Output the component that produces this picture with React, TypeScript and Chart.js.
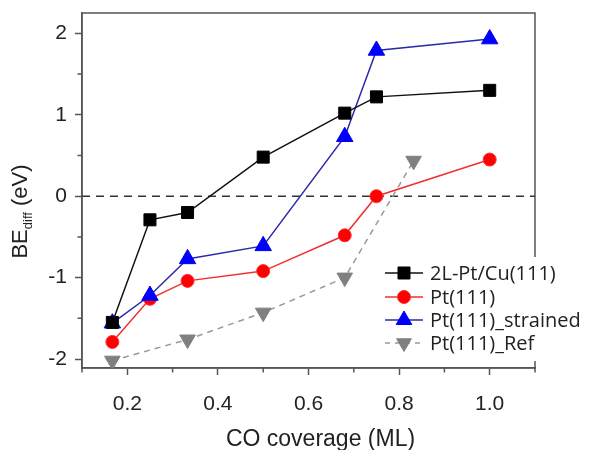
import React, { useEffect, useRef } from 'react';
import { Chart, registerables } from 'chart.js';

Chart.register(...registerables);

// ---- data ----
const COVERAGE = [0.167, 0.25, 0.333, 0.5, 0.68, 0.75, 1.0];
const PTCU_BE = [-1.55, -0.29, -0.2, 0.48, 1.02, 1.22, 1.3];
const PT111_BE = [-1.79, -1.26, -1.04, -0.92, -0.48, 0.0, 0.45];
const STRAINED_BE = [-1.56, -1.22, -0.77, -0.61, 0.73, 1.79, 1.93];
const REF_COVERAGE = [0.167, 0.333, 0.5, 0.68, 0.832];
const REF_BE = [-2.02, -1.76, -1.43, -1.0, 0.435];
const ZERO_X = [0.1, 1.1];
const ZERO_Y = [0, 0];

const X_TICKS = [0.2, 0.4, 0.6, 0.8, 1.0];
const X_MINOR = [0.1, 0.3, 0.5, 0.7, 0.9, 1.1];
const Y_TICKS = [-2, -1, 0, 1, 2];
const Y_MINOR = [-1.5, -0.5, 0.5, 1.5];

const LEGEND_LABELS = ['2L-Pt/Cu(111)', 'Pt(111)', 'Pt(111)_strained', 'Pt(111)_Ref'];

const pts = (xs: number[], ys: number[]) => xs.map((x, i) => ({ x, y: ys[i] }));

const FRAME = '#555';
const AXIS_FONT = "'Liberation Sans', Arial, sans-serif";

const framePlugin = {
  id: 'frame',
  beforeDatasetsDraw(chart: any) {
    const { ctx, chartArea: a, scales } = chart;
    ctx.save();
    ctx.strokeStyle = FRAME;
    ctx.lineWidth = 1.5;
    ctx.strokeRect(a.left, a.top, a.right - a.left, a.bottom - a.top);
    ctx.beginPath();
    X_MINOR.forEach((v) => {
      const px = scales.x.getPixelForValue(v);
      ctx.moveTo(px, a.bottom);
      ctx.lineTo(px, a.bottom + 4.5);
    });
    Y_MINOR.forEach((v) => {
      const py = scales.y.getPixelForValue(v);
      ctx.moveTo(a.left, py);
      ctx.lineTo(a.left - 4.5, py);
    });
    ctx.stroke();
    ctx.restore();
  },
};

const titlePlugin = {
  id: 'titles',
  afterDraw(chart: any) {
    const { ctx } = chart;
    ctx.save();
    ctx.fillStyle = '#222';
    ctx.font = `23px ${AXIS_FONT}`;
    ctx.textAlign = 'center';
    ctx.textBaseline = 'alphabetic';
    ctx.fillText('CO coverage (ML)', 320.5, 446);

    ctx.translate(27, 211.5);
    ctx.rotate(-Math.PI / 2);
    ctx.textAlign = 'left';
    const big = `22px ${AXIS_FONT}`;
    const small = `13px ${AXIS_FONT}`;
    ctx.font = big;
    const wBE = ctx.measureText('BE').width;
    const wEV = ctx.measureText(' (eV)').width;
    ctx.font = small;
    const wSub = ctx.measureText('diff').width;
    let x = -(wBE + wSub + wEV) / 2;
    ctx.font = big;
    ctx.fillText('BE', x, 0);
    x += wBE;
    ctx.font = small;
    ctx.fillText('diff', x, 5);
    x += wSub;
    ctx.font = big;
    ctx.fillText(' (eV)', x, 0);
    ctx.restore();
  },
};

function marker(ctx: CanvasRenderingContext2D, style: string, x: number, y: number, r: number) {
  ctx.beginPath();
  if (style === 'rect') {
    const s = r * Math.SQRT1_2;
    ctx.rect(x - s, y - s, 2 * s, 2 * s);
  } else if (style === 'circle') {
    ctx.arc(x, y, r, 0, Math.PI * 2);
  } else {
    const base = style === 'up' ? 0 : Math.PI;
    for (let i = 0; i < 3; i++) {
      const ang = base + (i * 2 * Math.PI) / 3;
      const px = x + Math.sin(ang) * r;
      const py = y - Math.cos(ang) * r;
      i === 0 ? ctx.moveTo(px, py) : ctx.lineTo(px, py);
    }
    ctx.closePath();
  }
  ctx.fill();
  ctx.stroke();
}

const LEGEND_STYLE = [
  { line: '#111', fill: '#000', edge: '#000', shape: 'rect', r: 8.5, dash: [] as number[] },
  { line: '#f03030', fill: '#ff0000', edge: '#ff3030', shape: 'circle', r: 6.5, dash: [] as number[] },
  { line: '#2a2aa8', fill: '#0000ff', edge: '#0000ee', shape: 'up', r: 9, dash: [] as number[] },
  { line: '#999', fill: '#808080', edge: '#808080', shape: 'down', r: 8.5, dash: [5, 5] },
];

const legendPlugin = {
  id: 'customLegend',
  afterDraw(chart: any) {
    const { ctx } = chart;
    ctx.save();
    ctx.fillStyle = '#fff';
    ctx.fillRect(378, 257, 212, 104);
    const rows = [273, 297, 320, 343];
    LEGEND_LABELS.forEach((label, i) => {
      const st = LEGEND_STYLE[i];
      const y = rows[i];
      ctx.strokeStyle = st.line;
      ctx.lineWidth = 1.5;
      ctx.setLineDash(st.dash);
      ctx.beginPath();
      ctx.moveTo(385, y);
      ctx.lineTo(423, y);
      ctx.stroke();
      ctx.setLineDash([]);
      ctx.fillStyle = st.fill;
      ctx.strokeStyle = st.edge;
      ctx.lineWidth = 1;
      marker(ctx, st.shape, 404, y, st.r);
      ctx.fillStyle = '#222';
      ctx.font = "20px 'Open Sans', sans-serif";
      ctx.textAlign = 'left';
      ctx.textBaseline = 'middle';
      ctx.fillText(label, 430, y + 1);
    });
    ctx.restore();
  },
};

export default function App() {
  const ref = useRef<HTMLCanvasElement | null>(null);

  useEffect(() => {
    if (!ref.current) return;
    const chart = new Chart(ref.current, {
      type: 'scatter',
      data: {
        datasets: [
          {
            label: 'zero',
            data: pts(ZERO_X, ZERO_Y),
            showLine: true,
            borderColor: '#333',
            borderWidth: 1.5,
            borderDash: [8, 6],
            pointRadius: 0,
            order: 5,
          },
          {
            label: LEGEND_LABELS[3],
            data: pts(REF_COVERAGE, REF_BE),
            showLine: true,
            borderColor: '#999',
            borderWidth: 1.5,
            borderDash: [6, 5],
            pointStyle: 'triangle',
            rotation: 180,
            pointRadius: 9,
            backgroundColor: '#808080',
            pointBorderColor: '#808080',
            pointBorderWidth: 1,
            order: 4,
          },
          {
            label: LEGEND_LABELS[1],
            data: pts(COVERAGE, PT111_BE),
            showLine: true,
            borderColor: '#f03030',
            borderWidth: 1.5,
            pointStyle: 'circle',
            pointRadius: 6.5,
            backgroundColor: '#ff0000',
            pointBorderColor: '#ff3030',
            pointBorderWidth: 1,
            order: 3,
          },
          {
            label: LEGEND_LABELS[2],
            data: pts(COVERAGE, STRAINED_BE),
            showLine: true,
            borderColor: '#2a2aa8',
            borderWidth: 1.5,
            pointStyle: 'triangle',
            pointRadius: 9.5,
            backgroundColor: '#0000ff',
            pointBorderColor: '#0000ee',
            pointBorderWidth: 1,
            order: 2,
          },
          {
            label: LEGEND_LABELS[0],
            data: pts(COVERAGE, PTCU_BE),
            showLine: true,
            borderColor: '#111',
            borderWidth: 1.5,
            pointStyle: 'rect',
            pointRadius: 8.5,
            backgroundColor: '#000',
            pointBorderColor: '#000',
            pointBorderWidth: 1,
            order: 1,
          },
        ],
      },
      options: {
        animation: false,
        responsive: false,
        maintainAspectRatio: false,
        layout: { padding: { top: 13, right: 55, left: 0, bottom: 0 } },
        plugins: { legend: { display: false }, tooltip: { enabled: false } },
        scales: {
          x: {
            type: 'linear',
            min: 0.1,
            max: 1.1,
            afterBuildTicks: (s: any) => {
              s.ticks = X_TICKS.map((v) => ({ value: v }));
            },
            afterFit: (s: any) => {
              s.height = 82;
              s.paddingLeft = 0;
              s.paddingRight = 0;
            },
            grid: { drawOnChartArea: false, tickLength: 7, tickColor: FRAME, tickWidth: 1.5 },
            border: { color: FRAME, width: 1.5 },
            ticks: {
              font: { family: AXIS_FONT, size: 21 },
              color: '#222',
              padding: 17,
              maxRotation: 0,
              autoSkip: false,
              callback: (v: any) => Number(v).toFixed(1),
            },
          },
          y: {
            type: 'linear',
            min: -2.11,
            max: 2.25,
            afterBuildTicks: (s: any) => {
              s.ticks = Y_TICKS.map((v) => ({ value: v }));
            },
            afterFit: (s: any) => {
              s.width = 82;
              s.paddingTop = 0;
              s.paddingBottom = 0;
            },
            grid: { drawOnChartArea: false, tickLength: 7, tickColor: FRAME, tickWidth: 1.5 },
            border: { color: FRAME, width: 1.5 },
            ticks: {
              font: { family: AXIS_FONT, size: 21 },
              color: '#222',
              padding: 8,
              autoSkip: false,
              callback: (v: any) => String(v),
            },
          },
        },
      },
      plugins: [framePlugin, titlePlugin, legendPlugin],
    });
    return () => chart.destroy();
  }, []);

  return (
    <div style={{ position: 'fixed', left: 0, top: 0, width: 590, height: 450, background: '#fff' }}>
      <canvas ref={ref} width={590} height={450} style={{ width: 590, height: 450, display: 'block' }} />
    </div>
  );
}
